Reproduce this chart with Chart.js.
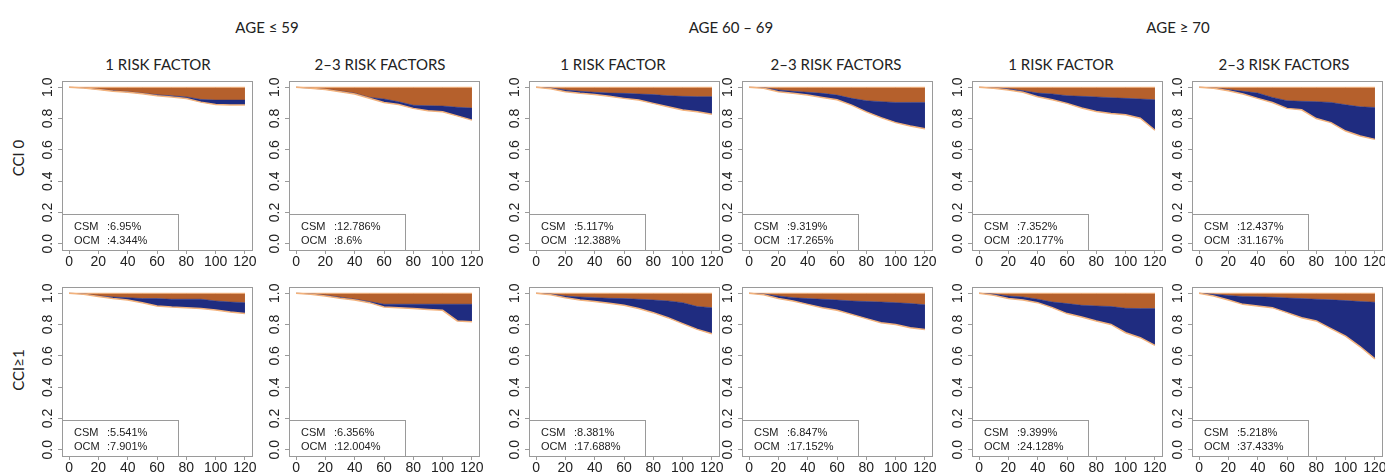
<!DOCTYPE html>
<html>
<head>
<meta charset="utf-8">
<script src="https://cdn.jsdelivr.net/npm/chart.js@4.4.1/dist/chart.umd.min.js"></script>
<style>
  body { margin: 0; background: #fff; }
  #page { position: relative; width: 1385px; height: 475px; overflow: hidden; background: #fff; }
  .lbl { position: absolute; transform: translate(-50%, -50%); font-family: Lato, "Open Sans", sans-serif; font-size: 15px; color: #222; white-space: nowrap; }
  .rot { transform: translate(-50%, -50%) rotate(-90deg); }
  canvas { position: absolute; }
</style>
</head>
<body>
<div id="page"></div>
<script>
// months of follow-up, shared by every panel
const months = [0, 10, 20, 30, 40, 50, 60, 70, 80, 90, 100, 110, 120];
const xTicks = [0, 20, 40, 60, 80, 100, 120];
const yTicks = [0, 0.2, 0.4, 0.6, 0.8, 1.0];

const ageGroups = ["AGE \u2264 59", "AGE 60 \u2013 69", "AGE \u2265 70"];
const riskGroups = ["1 RISK FACTOR", "2\u20133 RISK FACTORS"];
const cciGroups = ["CCI 0", "CCI\u22651"];

// lower edge: free of any death (1 - CSM - OCM), panels row by row
const overall = [
  [1, 0.995, 0.985, 0.975, 0.968, 0.958, 0.946, 0.938, 0.928, 0.905, 0.89, 0.887, 0.886],
  [1, 0.993, 0.985, 0.972, 0.957, 0.93, 0.903, 0.89, 0.865, 0.85, 0.843, 0.817, 0.79],
  [1, 0.99, 0.972, 0.961, 0.953, 0.942, 0.929, 0.918, 0.897, 0.875, 0.854, 0.843, 0.828],
  [1, 0.994, 0.972, 0.961, 0.95, 0.935, 0.92, 0.886, 0.843, 0.806, 0.774, 0.753, 0.735],
  [1, 0.994, 0.983, 0.968, 0.94, 0.92, 0.897, 0.867, 0.845, 0.832, 0.824, 0.802, 0.725],
  [1, 0.994, 0.978, 0.957, 0.929, 0.903, 0.865, 0.856, 0.8, 0.774, 0.72, 0.688, 0.667],
  [1, 0.994, 0.979, 0.966, 0.957, 0.94, 0.919, 0.912, 0.908, 0.902, 0.893, 0.88, 0.87],
  [1, 0.994, 0.983, 0.968, 0.957, 0.94, 0.912, 0.908, 0.902, 0.897, 0.891, 0.823, 0.818],
  [1, 0.991, 0.972, 0.957, 0.947, 0.936, 0.923, 0.902, 0.876, 0.844, 0.806, 0.769, 0.741],
  [1, 0.991, 0.966, 0.951, 0.929, 0.908, 0.891, 0.865, 0.838, 0.812, 0.801, 0.78, 0.769],
  [1, 0.987, 0.966, 0.957, 0.94, 0.908, 0.87, 0.848, 0.823, 0.801, 0.748, 0.716, 0.667],
  [1, 0.983, 0.957, 0.929, 0.919, 0.908, 0.876, 0.844, 0.823, 0.774, 0.726, 0.658, 0.581],
];

// middle edge: free of cancer specific death (1 - CSM)
const csmFree = [
  [1, 0.996, 0.987, 0.978, 0.971, 0.962, 0.952, 0.945, 0.938, 0.922, 0.918, 0.918, 0.918],
  [1, 0.994, 0.987, 0.975, 0.962, 0.935, 0.925, 0.907, 0.885, 0.882, 0.88, 0.872, 0.867],
  [1, 0.995, 0.983, 0.974, 0.968, 0.963, 0.961, 0.957, 0.953, 0.946, 0.942, 0.94, 0.94],
  [1, 0.997, 0.983, 0.974, 0.968, 0.961, 0.95, 0.929, 0.914, 0.908, 0.903, 0.903, 0.903],
  [1, 0.996, 0.99, 0.978, 0.963, 0.957, 0.946, 0.942, 0.938, 0.933, 0.929, 0.925, 0.92],
  [1, 0.996, 0.985, 0.974, 0.963, 0.935, 0.914, 0.91, 0.908, 0.903, 0.888, 0.875, 0.871],
  [1, 0.996, 0.983, 0.976, 0.972, 0.966, 0.966, 0.962, 0.962, 0.962, 0.951, 0.944, 0.94],
  [1, 0.996, 0.987, 0.975, 0.962, 0.947, 0.93, 0.93, 0.93, 0.93, 0.93, 0.93, 0.93],
  [1, 0.995, 0.983, 0.976, 0.972, 0.968, 0.966, 0.962, 0.957, 0.951, 0.94, 0.915, 0.908],
  [1, 0.995, 0.983, 0.972, 0.966, 0.962, 0.957, 0.951, 0.947, 0.944, 0.94, 0.934, 0.927],
  [1, 0.995, 0.983, 0.976, 0.962, 0.944, 0.934, 0.923, 0.919, 0.915, 0.904, 0.902, 0.902],
  [1, 0.994, 0.985, 0.98, 0.977, 0.974, 0.97, 0.966, 0.962, 0.958, 0.953, 0.947, 0.943],
];

const csmText = ["6.95%", "12.786%", "5.117%", "9.319%", "7.352%", "12.437%",
                 "5.541%", "6.356%", "8.381%", "6.847%", "9.399%", "5.218%"];
const ocmText = ["4.344%", "8.6%", "12.388%", "17.265%", "20.177%", "31.167%",
                 "7.901%", "12.004%", "17.688%", "17.152%", "24.128%", "37.433%"];

const ORANGE = "#b5602c";
const BLUE = "#1f2c80";
const EDGE = "#f3b27c";
const BOX = "#9a9a9a";
const TEXT = "#222";

const page = document.getElementById("page");

// plot box positions
const boxLefts = [62, 289, 529, 742, 972, 1192];
const boxTops = [81, 287];
const boxW = 190;
const boxH = 169;
const padL = 40, padT = 8, padR = 10, padB = 30;

function addLabel(text, x, y, rotate) {
  const d = document.createElement("div");
  d.className = rotate ? "lbl rot" : "lbl";
  d.textContent = text;
  d.style.left = x + "px";
  d.style.top = y + "px";
  page.appendChild(d);
}

addLabel(ageGroups[0], 267, 27);
addLabel(ageGroups[1], 731, 27);
addLabel(ageGroups[2], 1178, 27);
const subCenters = [158, 380, 613, 836, 1061, 1284];
subCenters.forEach((x, i) => addLabel(riskGroups[i % 2], x, 64));
addLabel(cciGroups[0], 18, 158, true);
addLabel(cciGroups[1], 18, 370, true);

// box round the plot plus the small CSM / OCM legend in the corner
const frame = {
  id: "frame",
  afterDraw(chart, args, opts) {
    const { ctx, chartArea: a, scales } = chart;
    ctx.save();
    ctx.strokeStyle = BOX;
    ctx.lineWidth = 1;
    ctx.strokeRect(a.left + 0.5, a.top + 0.5, a.right - a.left, a.bottom - a.top);
    const lx = scales.x.getPixelForValue(74);
    const ly = scales.y.getPixelForValue(0.188);
    ctx.strokeRect(a.left + 0.5, Math.round(ly) + 0.5, Math.round(lx - a.left), Math.round(a.bottom - ly));
    ctx.fillStyle = TEXT;
    ctx.font = "11px 'Liberation Sans', Arial, sans-serif";
    ctx.textBaseline = "middle";
    ctx.fillText("CSM", a.left + 12, a.bottom - 23);
    ctx.fillText(":" + opts.csm, a.left + 45, a.bottom - 23);
    ctx.fillText("OCM", a.left + 12, a.bottom - 9);
    ctx.fillText(":" + opts.ocm, a.left + 45, a.bottom - 9);
    ctx.restore();
  },
};

const tickFont = { family: "'Liberation Sans', Arial, sans-serif", size: 14 };

function createPanel(row, col) {
  const idx = row * 6 + col;
  const canvas = document.createElement("canvas");
  const w = boxW + padL + padR;
  const h = boxH + padT + padB;
  canvas.width = w;
  canvas.height = h;
  canvas.style.left = (boxLefts[col] - padL) + "px";
  canvas.style.top = (boxTops[row] - padT) + "px";
  page.appendChild(canvas);

  const lower = months.map((m, i) => ({ x: m, y: overall[idx][i] }));
  const mid = months.map((m, i) => ({ x: m, y: csmFree[idx][i] }));
  const top = months.map((m) => ({ x: m, y: 1 }));

  new Chart(canvas.getContext("2d"), {
    type: "line",
    data: {
      datasets: [
        { label: "overall", data: lower, borderColor: EDGE, borderWidth: 1.5, fill: false },
        { label: "OCM", data: mid, borderColor: BLUE, borderWidth: 0.5, backgroundColor: BLUE, fill: "-1" },
        { label: "CSM", data: top, borderColor: EDGE, borderWidth: 1, backgroundColor: ORANGE, fill: "-1" },
      ],
    },
    options: {
      responsive: false,
      animation: false,
      devicePixelRatio: 1,
      layout: { padding: { left: 0, top: padT, right: padR, bottom: 0 } },
      elements: {
        point: { radius: 0 },
        line: { tension: 0 },
      },
      plugins: {
        legend: { display: false },
        tooltip: { enabled: false },
        frame: { csm: csmText[idx], ocm: ocmText[idx] },
      },
      scales: {
        x: {
          type: "linear",
          min: -4.8,
          max: 124.8,
          afterBuildTicks: (axis) => { axis.ticks = xTicks.map((v) => ({ value: v })); },
          afterFit: (axis) => {
            axis.height = padB;
            axis.paddingLeft = 0; axis.paddingRight = 0;
          },
          border: { display: false },
          grid: { drawOnChartArea: false, drawTicks: true, tickLength: 4, color: BOX },
          ticks: { font: tickFont, color: TEXT, padding: 0, maxRotation: 0, autoSkip: false,
                   callback: (v) => String(v) },
        },
        y: {
          min: -0.04,
          max: 1.04,
          afterBuildTicks: (axis) => { axis.ticks = yTicks.map((v) => ({ value: v })); },
          afterFit: (axis) => {
            axis.width = padL;
            axis.paddingTop = 0; axis.paddingBottom = 0;
          },
          border: { display: false },
          grid: { drawOnChartArea: false, drawTicks: true, tickLength: 4, color: BOX },
          ticks: { font: tickFont, color: TEXT, padding: 0, minRotation: 90, maxRotation: 90,
                   crossAlign: "center", autoSkip: false,
                   callback: (v) => v.toFixed(1) },
        },
      },
    },
    plugins: [frame],
  });
}

for (let r = 0; r < 2; r++) {
  for (let c = 0; c < 6; c++) {
    createPanel(r, c);
  }
}
</script>
</body>
</html>
